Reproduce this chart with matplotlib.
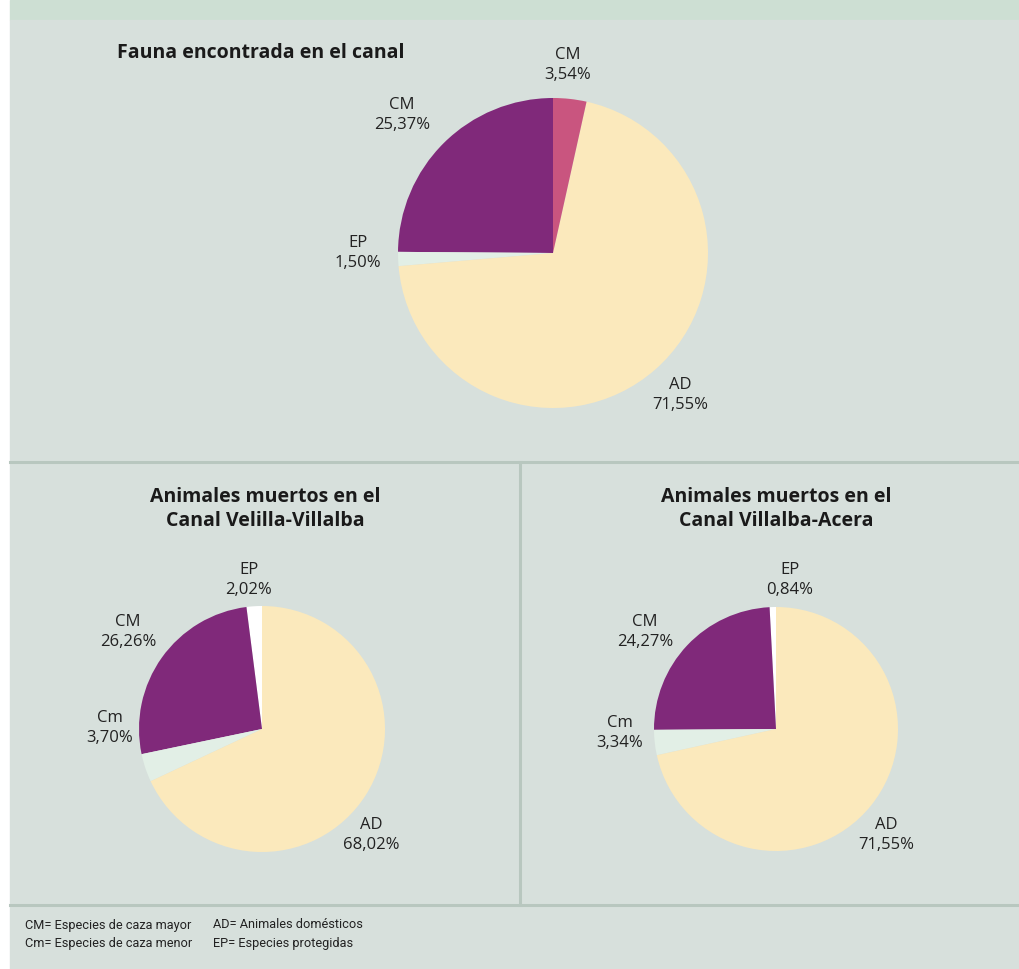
import matplotlib.pyplot as plt
from matplotlib.patches import Rectangle
from matplotlib.lines import Line2D

plt.rcParams['font.family'] = ['Open Sans', 'DejaVu Sans']

W, H = 1020, 969

# slice data (drawn counter-clockwise from 12 o'clock)
fauna_labels = ['CM', 'EP', 'AD', 'CM']
fauna_values = [25.37, 1.50, 71.55, 3.54]
fauna_colors = ['#80297a', '#e2efe6', '#fbe9bc', '#c9557f']

velilla_labels = ['EP', 'CM', 'Cm', 'AD']
velilla_values = [2.02, 26.26, 3.70, 68.02]

villalba_labels = ['EP', 'CM', 'Cm', 'AD']
villalba_values = [0.84, 24.27, 3.34, 71.55]

muertos_colors = ['#ffffff', '#80297a', '#e2efe6', '#fbe9bc']

legend_left = ['CM= Especies de caza mayor', 'Cm= Especies de caza menor']
legend_right = ['AD= Animales domésticos', 'EP= Especies protegidas']

fig = plt.figure(figsize=(W / 100, H / 100), dpi=100)
fig.patch.set_facecolor('white')


def fx(x):
    return x / W


def fy(y):
    return 1 - y / H


# background panels
fig.add_artist(Rectangle((fx(10), fy(20)), fx(W - 10), 20 / H,
                         transform=fig.transFigure, color='#cddfd3', zorder=0))
fig.add_artist(Rectangle((fx(10), 0), fx(W - 10), fy(20),
                         transform=fig.transFigure, color='#d7e0dc', zorder=0))
line_kw = dict(transform=fig.transFigure, color='#b8c7bf', lw=2.2, zorder=1)
fig.add_artist(Line2D([fx(10), 1], [fy(462), fy(462)], **line_kw))
fig.add_artist(Line2D([fx(10), 1], [fy(905), fy(905)], **line_kw))
fig.add_artist(Line2D([fx(520), fx(520)], [fy(462), fy(905)], **line_kw))


def draw_pie(left, top, size, values, colors):
    ax = fig.add_axes([fx(left), fy(top + size), size / W, size / H])
    ax.pie(values, colors=colors, startangle=90, counterclock=True,
           radius=1, wedgeprops=dict(linewidth=0))
    ax.set_xlim(-1, 1)
    ax.set_ylim(-1, 1)
    ax.set_aspect('equal')
    ax.axis('off')
    return ax


def label(x, y, name, value):
    txt = '%s\n%s%%' % (name, ('%.2f' % value).replace('.', ','))
    fig.text(fx(x), fy(y), txt, ha='center', va='center', fontsize=12,
             color='#222222', linespacing=1.3)


title_kw = dict(fontsize=14, fontweight='bold', color='#1a1a1a')

# top pie
draw_pie(398, 98, 310, fauna_values, fauna_colors)
fig.text(fx(117), fy(53), 'Fauna encontrada en el canal', ha='left', va='center', **title_kw)
label(568, 65, fauna_labels[3], fauna_values[3])
label(402, 115, fauna_labels[0], fauna_values[0])
label(358, 253, fauna_labels[1], fauna_values[1])
label(680, 395, fauna_labels[2], fauna_values[2])

# bottom left pie
draw_pie(139, 606, 246, velilla_values, muertos_colors)
fig.text(fx(265), fy(509), 'Animales muertos en el\nCanal Velilla-Villalba', ha='center',
         va='center', linespacing=1.25, **title_kw)
label(249, 580, velilla_labels[0], velilla_values[0])
label(128, 632, velilla_labels[1], velilla_values[1])
label(110, 728, velilla_labels[2], velilla_values[2])
label(371, 835, velilla_labels[3], velilla_values[3])

# bottom right pie
draw_pie(654, 607, 244, villalba_values, muertos_colors)
fig.text(fx(776), fy(509), 'Animales muertos en el\nCanal Villalba-Acera', ha='center',
         va='center', linespacing=1.25, **title_kw)
label(790, 580, villalba_labels[0], villalba_values[0])
label(645, 632, villalba_labels[1], villalba_values[1])
label(620, 733, villalba_labels[2], villalba_values[2])
label(886, 835, villalba_labels[3], villalba_values[3])

# abbreviations
leg_kw = dict(ha='left', va='center', fontsize=9.2, color='#222222',
              family=['Roboto', 'DejaVu Sans'])
for i, (a, b) in enumerate(zip(legend_left, legend_right)):
    fig.text(fx(25), fy(925 + 19 * i), a, **leg_kw)
    fig.text(fx(213), fy(925 + 19 * i), b, **leg_kw)

fig.savefig('out.png', dpi=100)
